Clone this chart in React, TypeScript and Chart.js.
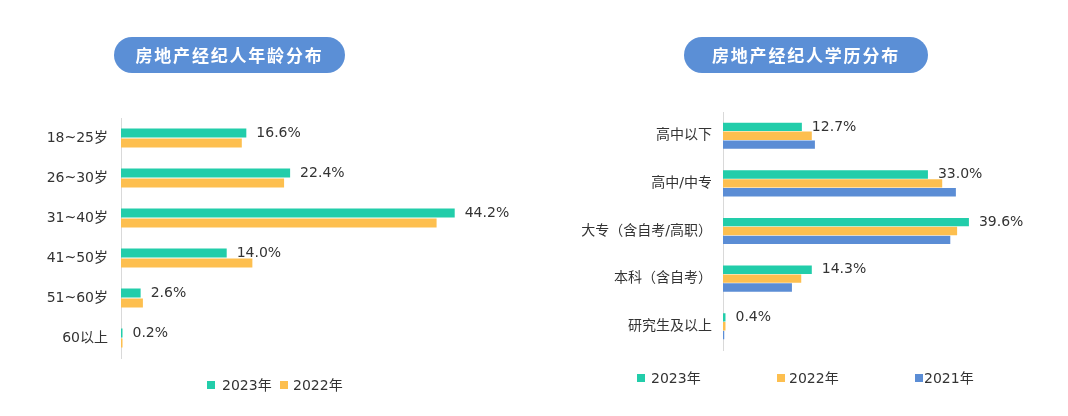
import React, { useEffect, useRef } from "react";
import { Chart, registerables } from "chart.js";

Chart.register(...registerables);

// ---------- data ----------
const ageCategories = ["18~25岁", "26~30岁", "31~40岁", "41~50岁", "51~60岁", "60以上"];
const age2023 = [16.6, 22.4, 44.2, 14.0, 2.6, 0.2];
const age2022 = [16.0, 21.6, 41.8, 17.4, 2.9, 0.2];

const eduCategories = ["高中以下", "高中/中专", "大专（含自考/高职）", "本科（含自考）", "研究生及以上"];
const edu2023 = [12.7, 33.0, 39.6, 14.3, 0.4];
const edu2022 = [14.3, 35.3, 37.7, 12.6, 0.4];
const edu2021 = [14.8, 37.5, 36.6, 11.1, 0.2];

const seriesLabels = ["2023年", "2022年", "2021年"];
const ageTitle = "房地产经纪人年龄分布";
const eduTitle = "房地产经纪人学历分布";

// ---------- styles ----------
const FONT = '"DejaVu Sans", "Noto Sans CJK SC", sans-serif';
const COLORS = ["#22cdaa", "#fdbf4f", "#5b8dd5"];
const TEXT = "#333333";
const PILL = "#5b8fd6";

const valueLabelPlugin = {
  id: "valueLabels",
  afterDatasetsDraw(chart: any) {
    const meta = chart.getDatasetMeta(0);
    const data = chart.data.datasets[0].data as number[];
    const ctx = chart.ctx;
    ctx.save();
    ctx.font = `14px ${FONT}`;
    ctx.fillStyle = TEXT;
    ctx.textBaseline = "middle";
    ctx.textAlign = "left";
    meta.data.forEach((bar: any, i: number) => {
      ctx.fillText(data[i].toFixed(1) + "%", bar.x + 10, bar.y);
    });
    ctx.restore();
  },
};

type BarProps = {
  left: number;
  categories: string[];
  series: number[][];
  pad: { top: number; right: number; bottom: number };
  yWidth: number;
  tickPad: number;
  cp: number;
  bp: number;
};

function HBarChart({ left, categories, series, pad, yWidth, tickPad, cp, bp }: BarProps) {
  const ref = useRef<HTMLCanvasElement>(null);
  useEffect(() => {
    if (!ref.current) return;
    const chart = new Chart(ref.current, {
      type: "bar",
      data: {
        labels: categories,
        datasets: series.map((d, i) => ({
          label: seriesLabels[i],
          data: d,
          backgroundColor: COLORS[i],
          borderWidth: 0,
          categoryPercentage: cp,
          barPercentage: bp,
        })),
      },
      options: {
        indexAxis: "y",
        responsive: false,
        animation: false,
        devicePixelRatio: 1,
        layout: { padding: { left: 0, top: pad.top, right: pad.right, bottom: pad.bottom } },
        plugins: {
          legend: { display: false },
          tooltip: { enabled: false },
          title: { display: false },
        },
        scales: {
          x: { display: false, min: 0, max: 50 },
          y: {
            grid: { display: false, drawTicks: false },
            border: { display: true, color: "#d9d9d9", width: 1 },
            ticks: { color: TEXT, font: { size: 14, family: FONT }, padding: tickPad, autoSkip: false },
            afterFit: (s: any) => {
              s.width = yWidth;
            },
          },
        },
      },
      plugins: [valueLabelPlugin],
    } as any);
    return () => chart.destroy();
  }, []);
  return (
    <canvas
      ref={ref}
      width={534}
      height={416}
      style={{ position: "absolute", left, top: 0, width: 534, height: 416, display: "block" }}
    />
  );
}

function Pill({ text, left, width }: { text: string; left: number; width: number }) {
  return (
    <div
      style={{
        position: "absolute",
        left,
        top: 37,
        width,
        height: 36,
        borderRadius: 18,
        background: PILL,
        color: "#ffffff",
        fontFamily: '"Noto Sans CJK SC", sans-serif',
        fontWeight: 700,
        fontSize: 17,
        letterSpacing: 1.8,
        lineHeight: "36px",
        textAlign: "center",
      }}
    >
      {text}
    </div>
  );
}

function LegendItem({ color, text, sx, tx, y }: { color: string; text: string; sx: number; tx: number; y: number }) {
  return (
    <>
      <div style={{ position: "absolute", left: sx, top: y - 4, width: 8, height: 8, background: color }} />
      <div
        style={{
          position: "absolute",
          left: tx,
          top: y - 10,
          height: 20,
          lineHeight: "20px",
          fontFamily: FONT,
          fontSize: 14,
          color: TEXT,
          whiteSpace: "nowrap",
        }}
      >
        {text}
      </div>
    </>
  );
}

export default function App() {
  return (
    <div
      style={{
        position: "absolute",
        left: 0,
        top: 0,
        width: 1068,
        height: 416,
        background: "#ffffff",
        overflow: "hidden",
      }}
    >
      <HBarChart
        left={0}
        categories={ageCategories}
        series={[age2023, age2022]}
        pad={{ top: 118, right: 35.5, bottom: 58 }}
        yWidth={121}
        tickPad={13}
        cp={0.5}
        bp={0.92}
      />
      <HBarChart
        left={534}
        categories={eduCategories}
        series={[edu2023, edu2022, edu2021]}
        pad={{ top: 112, right: 34.5, bottom: 66 }}
        yWidth={189}
        tickPad={11}
        cp={0.56}
        bp={0.94}
      />
      <Pill text={ageTitle} left={114} width={231} />
      <Pill text={eduTitle} left={684} width={244} />
      <LegendItem color={COLORS[0]} text={seriesLabels[0]} sx={207} tx={222} y={385} />
      <LegendItem color={COLORS[1]} text={seriesLabels[1]} sx={280} tx={293} y={385} />
      <LegendItem color={COLORS[0]} text={seriesLabels[0]} sx={637} tx={651} y={378} />
      <LegendItem color={COLORS[1]} text={seriesLabels[1]} sx={777} tx={789} y={378} />
      <LegendItem color={COLORS[2]} text={seriesLabels[2]} sx={915} tx={924} y={378} />
    </div>
  );
}
